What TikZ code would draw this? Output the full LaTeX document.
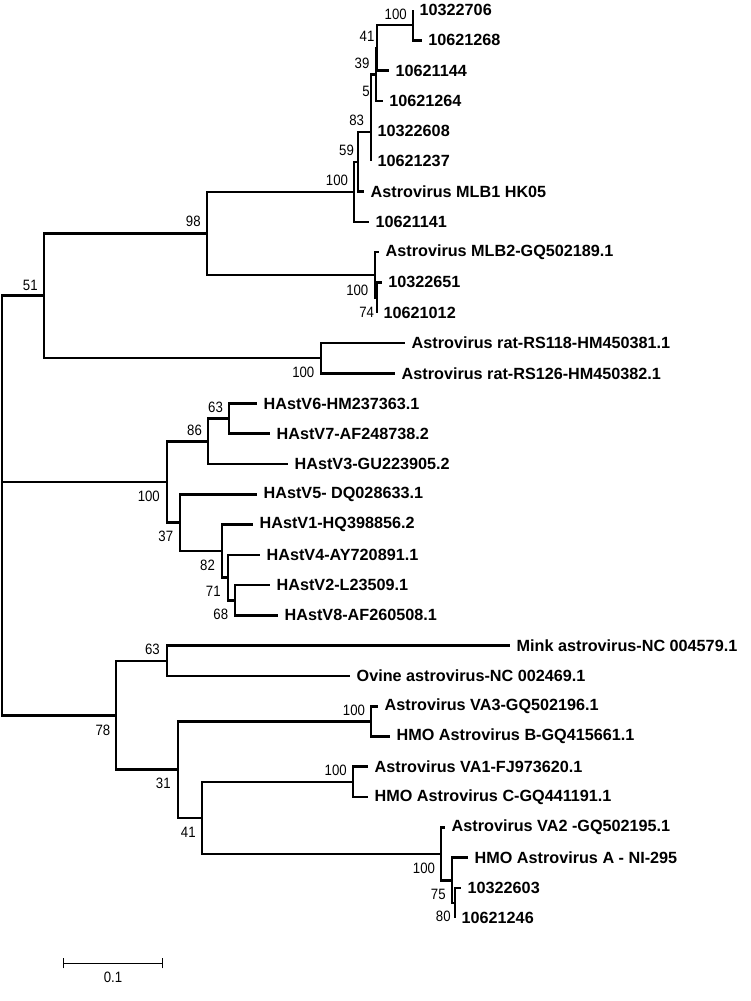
\documentclass[tikz,border=0pt]{standalone}
\usepackage{fontspec}
\setmainfont{Liberation Sans}
\newfontfamily\bsfont[FakeStretch=0.88]{Liberation Sans}
\begin{document}
\begin{tikzpicture}[x=1pt,y=-1pt,
  br/.style={line width=2.6pt,line join=miter},
  leaf/.style={anchor=west,inner sep=0pt,xshift=6.5pt,font=\fontsize{16.2}{18}\selectfont\bfseries},
  bs/.style={inner sep=0pt,font=\bsfont\fontsize{15}{17}\selectfont},
  sbar/.style={line width=1.3pt}]
\useasboundingbox (0,0) rectangle (750,1001);
% leaf tips
\coordinate (t0) at (413,10);
\coordinate (t1) at (421.7,40.27);
\coordinate (t2) at (389,70.54);
\coordinate (t3) at (382.7,100.81);
\coordinate (t4) at (371,131.08);
\coordinate (t5) at (371,161.35);
\coordinate (t6) at (364,191.62);
\coordinate (t7) at (369,221.89);
\coordinate (t8) at (379,252.16);
\coordinate (t9) at (381.7,282.43);
\coordinate (t10) at (377,312.7);
\coordinate (t11) at (405,342.97);
\coordinate (t12) at (395,373.24);
\coordinate (t13) at (257,403.51);
\coordinate (t14) at (270,433.78);
\coordinate (t15) at (288,464.05);
\coordinate (t16) at (257,494.32);
\coordinate (t17) at (253,524.59);
\coordinate (t18) at (260,554.86);
\coordinate (t19) at (270,585.13);
\coordinate (t20) at (278,615.4);
\coordinate (t21) at (510,645.67);
\coordinate (t22) at (350,675.94);
\coordinate (t23) at (378,706.21);
\coordinate (t24) at (390,736.48);
\coordinate (t25) at (368,766.75);
\coordinate (t26) at (368,797.02);
\coordinate (t27) at (445,827.29);
\coordinate (t28) at (468,857.56);
\coordinate (t29) at (461,887.83);
\coordinate (t30) at (455,918.1);
% internal nodes
\coordinate (nA) at (413,25.1);
\coordinate (nB) at (377,47.8);
\coordinate (nC) at (376,74.3);
\coordinate (nD) at (371,102.7);
\coordinate (nE) at (371,132.0);
\coordinate (nF) at (358,161.8);
\coordinate (nG) at (354,191.8);
\coordinate (nH) at (377,297.6);
\coordinate (nI) at (375,274.9);
\coordinate (nJ) at (207,233.4);
\coordinate (nK) at (321,358.1);
\coordinate (nL) at (44,295.7);
\coordinate (nM) at (229,418.6);
\coordinate (nN) at (208,441.3);
\coordinate (nO) at (235,600.3);
\coordinate (nP) at (228,577.6);
\coordinate (nQ) at (222,551.1);
\coordinate (nR) at (180,522.7);
\coordinate (nS) at (167,482.0);
\coordinate (nT) at (167,660.8);
\coordinate (nU) at (371,721.3);
\coordinate (nV) at (353,781.9);
\coordinate (nW) at (455,903.0);
\coordinate (nX) at (452,880.3);
\coordinate (nY) at (441,853.8);
\coordinate (nZ) at (202,817.8);
\coordinate (nAA) at (178,769.6);
\coordinate (nAB) at (116,715.2);
\coordinate (root) at (2,482.0);
% branches
\draw[br] (nA) |- (t0) (nA) |- (t1);
\draw[br] (nB) |- (nA) (nB) |- (t2);
\draw[br] (nC) |- (nB) (nC) |- (t3);
\draw[br] (nD) |- (nC) (nD) |- (t4);
\draw[br] (nE) |- (nD) (nE) |- (t5);
\draw[br] (nF) |- (nE) (nF) |- (t6);
\draw[br] (nG) |- (nF) (nG) |- (t7);
\draw[br] (nH) |- (t9) (nH) |- (t10);
\draw[br] (nI) |- (t8) (nI) |- (nH);
\draw[br] (nJ) |- (nG) (nJ) |- (nI);
\draw[br] (nK) |- (t11) (nK) |- (t12);
\draw[br] (nL) |- (nJ) (nL) |- (nK);
\draw[br] (nM) |- (t13) (nM) |- (t14);
\draw[br] (nN) |- (nM) (nN) |- (t15);
\draw[br] (nO) |- (t19) (nO) |- (t20);
\draw[br] (nP) |- (t18) (nP) |- (nO);
\draw[br] (nQ) |- (t17) (nQ) |- (nP);
\draw[br] (nR) |- (t16) (nR) |- (nQ);
\draw[br] (nS) |- (nN) (nS) |- (nR);
\draw[br] (nT) |- (t21) (nT) |- (t22);
\draw[br] (nU) |- (t23) (nU) |- (t24);
\draw[br] (nV) |- (t25) (nV) |- (t26);
\draw[br] (nW) |- (t29) (nW) |- (t30);
\draw[br] (nX) |- (t28) (nX) |- (nW);
\draw[br] (nY) |- (t27) (nY) |- (nX);
\draw[br] (nZ) |- (nV) (nZ) |- (nY);
\draw[br] (nAA) |- (nU) (nAA) |- (nZ);
\draw[br] (nAB) |- (nT) (nAB) |- (nAA);
\draw[br] (root) |- (nL) (root) |- (nS) (root) |- (nAB);
% leaf labels
\node[leaf] (l0) at (t0) {10322706};
\node[leaf] (l1) at (t1) {10621268};
\node[leaf] (l2) at (t2) {10621144};
\node[leaf] (l3) at (t3) {10621264};
\node[leaf] (l4) at (t4) {10322608};
\node[leaf] (l5) at (t5) {10621237};
\node[leaf] (l6) at (t6) {Astrovirus MLB1 HK05};
\node[leaf] (l7) at (t7) {10621141};
\node[leaf] (l8) at (t8) {Astrovirus MLB2-GQ502189.1};
\node[leaf] (l9) at (t9) {10322651};
\node[leaf] (l10) at (t10) {10621012};
\node[leaf] (l11) at (t11) {Astrovirus rat-RS118-HM450381.1};
\node[leaf] (l12) at (t12) {Astrovirus rat-RS126-HM450382.1};
\node[leaf] (l13) at (t13) {HAstV6-HM237363.1};
\node[leaf] (l14) at (t14) {HAstV7-AF248738.2};
\node[leaf] (l15) at (t15) {HAstV3-GU223905.2};
\node[leaf] (l16) at (t16) {HAstV5- DQ028633.1};
\node[leaf] (l17) at (t17) {HAstV1-HQ398856.2};
\node[leaf] (l18) at (t18) {HAstV4-AY720891.1};
\node[leaf] (l19) at (t19) {HAstV2-L23509.1};
\node[leaf] (l20) at (t20) {HAstV8-AF260508.1};
\node[leaf] (l21) at (t21) {Mink astrovirus-NC 004579.1};
\node[leaf] (l22) at (t22) {Ovine astrovirus-NC 002469.1};
\node[leaf] (l23) at (t23) {Astrovirus VA3-GQ502196.1};
\node[leaf] (l24) at (t24) {HMO Astrovirus B-GQ415661.1};
\node[leaf] (l25) at (t25) {Astrovirus VA1-FJ973620.1};
\node[leaf] (l26) at (t26) {HMO Astrovirus C-GQ441191.1};
\node[leaf] (l27) at (t27) {Astrovirus VA2 -GQ502195.1};
\node[leaf] (l28) at (t28) {HMO Astrovirus A - NI-295};
\node[leaf] (l29) at (t29) {10322603};
\node[leaf] (l30) at (t30) {10621246};
% bootstrap values
\node[bs] (bA) at (395.7,14.7) {100};
\node[bs] (bB) at (367,36) {41};
\node[bs] (bC) at (362,63.3) {39};
\node[bs] (bD) at (366,91.7) {5};
\node[bs] (bE) at (356.7,120.7) {83};
\node[bs] (bF) at (346.5,150) {59};
\node[bs] (bG) at (337,180) {100};
\node[bs] (bJ) at (193.3,221.7) {98};
\node[bs] (bL) at (30.3,285) {51};
\node[bs] (bI) at (357.3,290) {100};
\node[bs] (bH) at (366.7,312.7) {74};
\node[bs] (bK) at (303.3,372.7) {100};
\node[bs] (bM) at (215.5,407.3) {63};
\node[bs] (bN) at (194.5,430) {86};
\node[bs] (bS) at (148.8,496.7) {100};
\node[bs] (bR) at (165.8,536.7) {37};
\node[bs] (bQ) at (207.5,565) {82};
\node[bs] (bP) at (213.3,591.7) {71};
\node[bs] (bO) at (220.8,614.3) {68};
\node[bs] (bT) at (152.5,649) {63};
\node[bs] (bAB) at (103,730) {78};
\node[bs] (bAA) at (163.3,783.3) {31};
\node[bs] (bZ) at (188.3,832.7) {41};
\node[bs] (bU) at (354,710) {100};
\node[bs] (bV) at (335.7,770) {100};
\node[bs] (bY) at (424,868.3) {100};
\node[bs] (bX) at (438.3,894) {75};
\node[bs] (bW) at (443.3,916.7) {80};
% scale bar
\coordinate (sb1) at (63.3,963.3);
\coordinate (sb2) at (162.7,963.3);
\draw[sbar] (sb1) -- (sb2);
\draw[sbar] ([yshift=-5pt]sb1) -- ([yshift=5pt]sb1);
\draw[sbar] ([yshift=-5pt]sb2) -- ([yshift=5pt]sb2);
\node[bs] (sbl) at (113,977) {0.1};
\end{tikzpicture}
\end{document}
